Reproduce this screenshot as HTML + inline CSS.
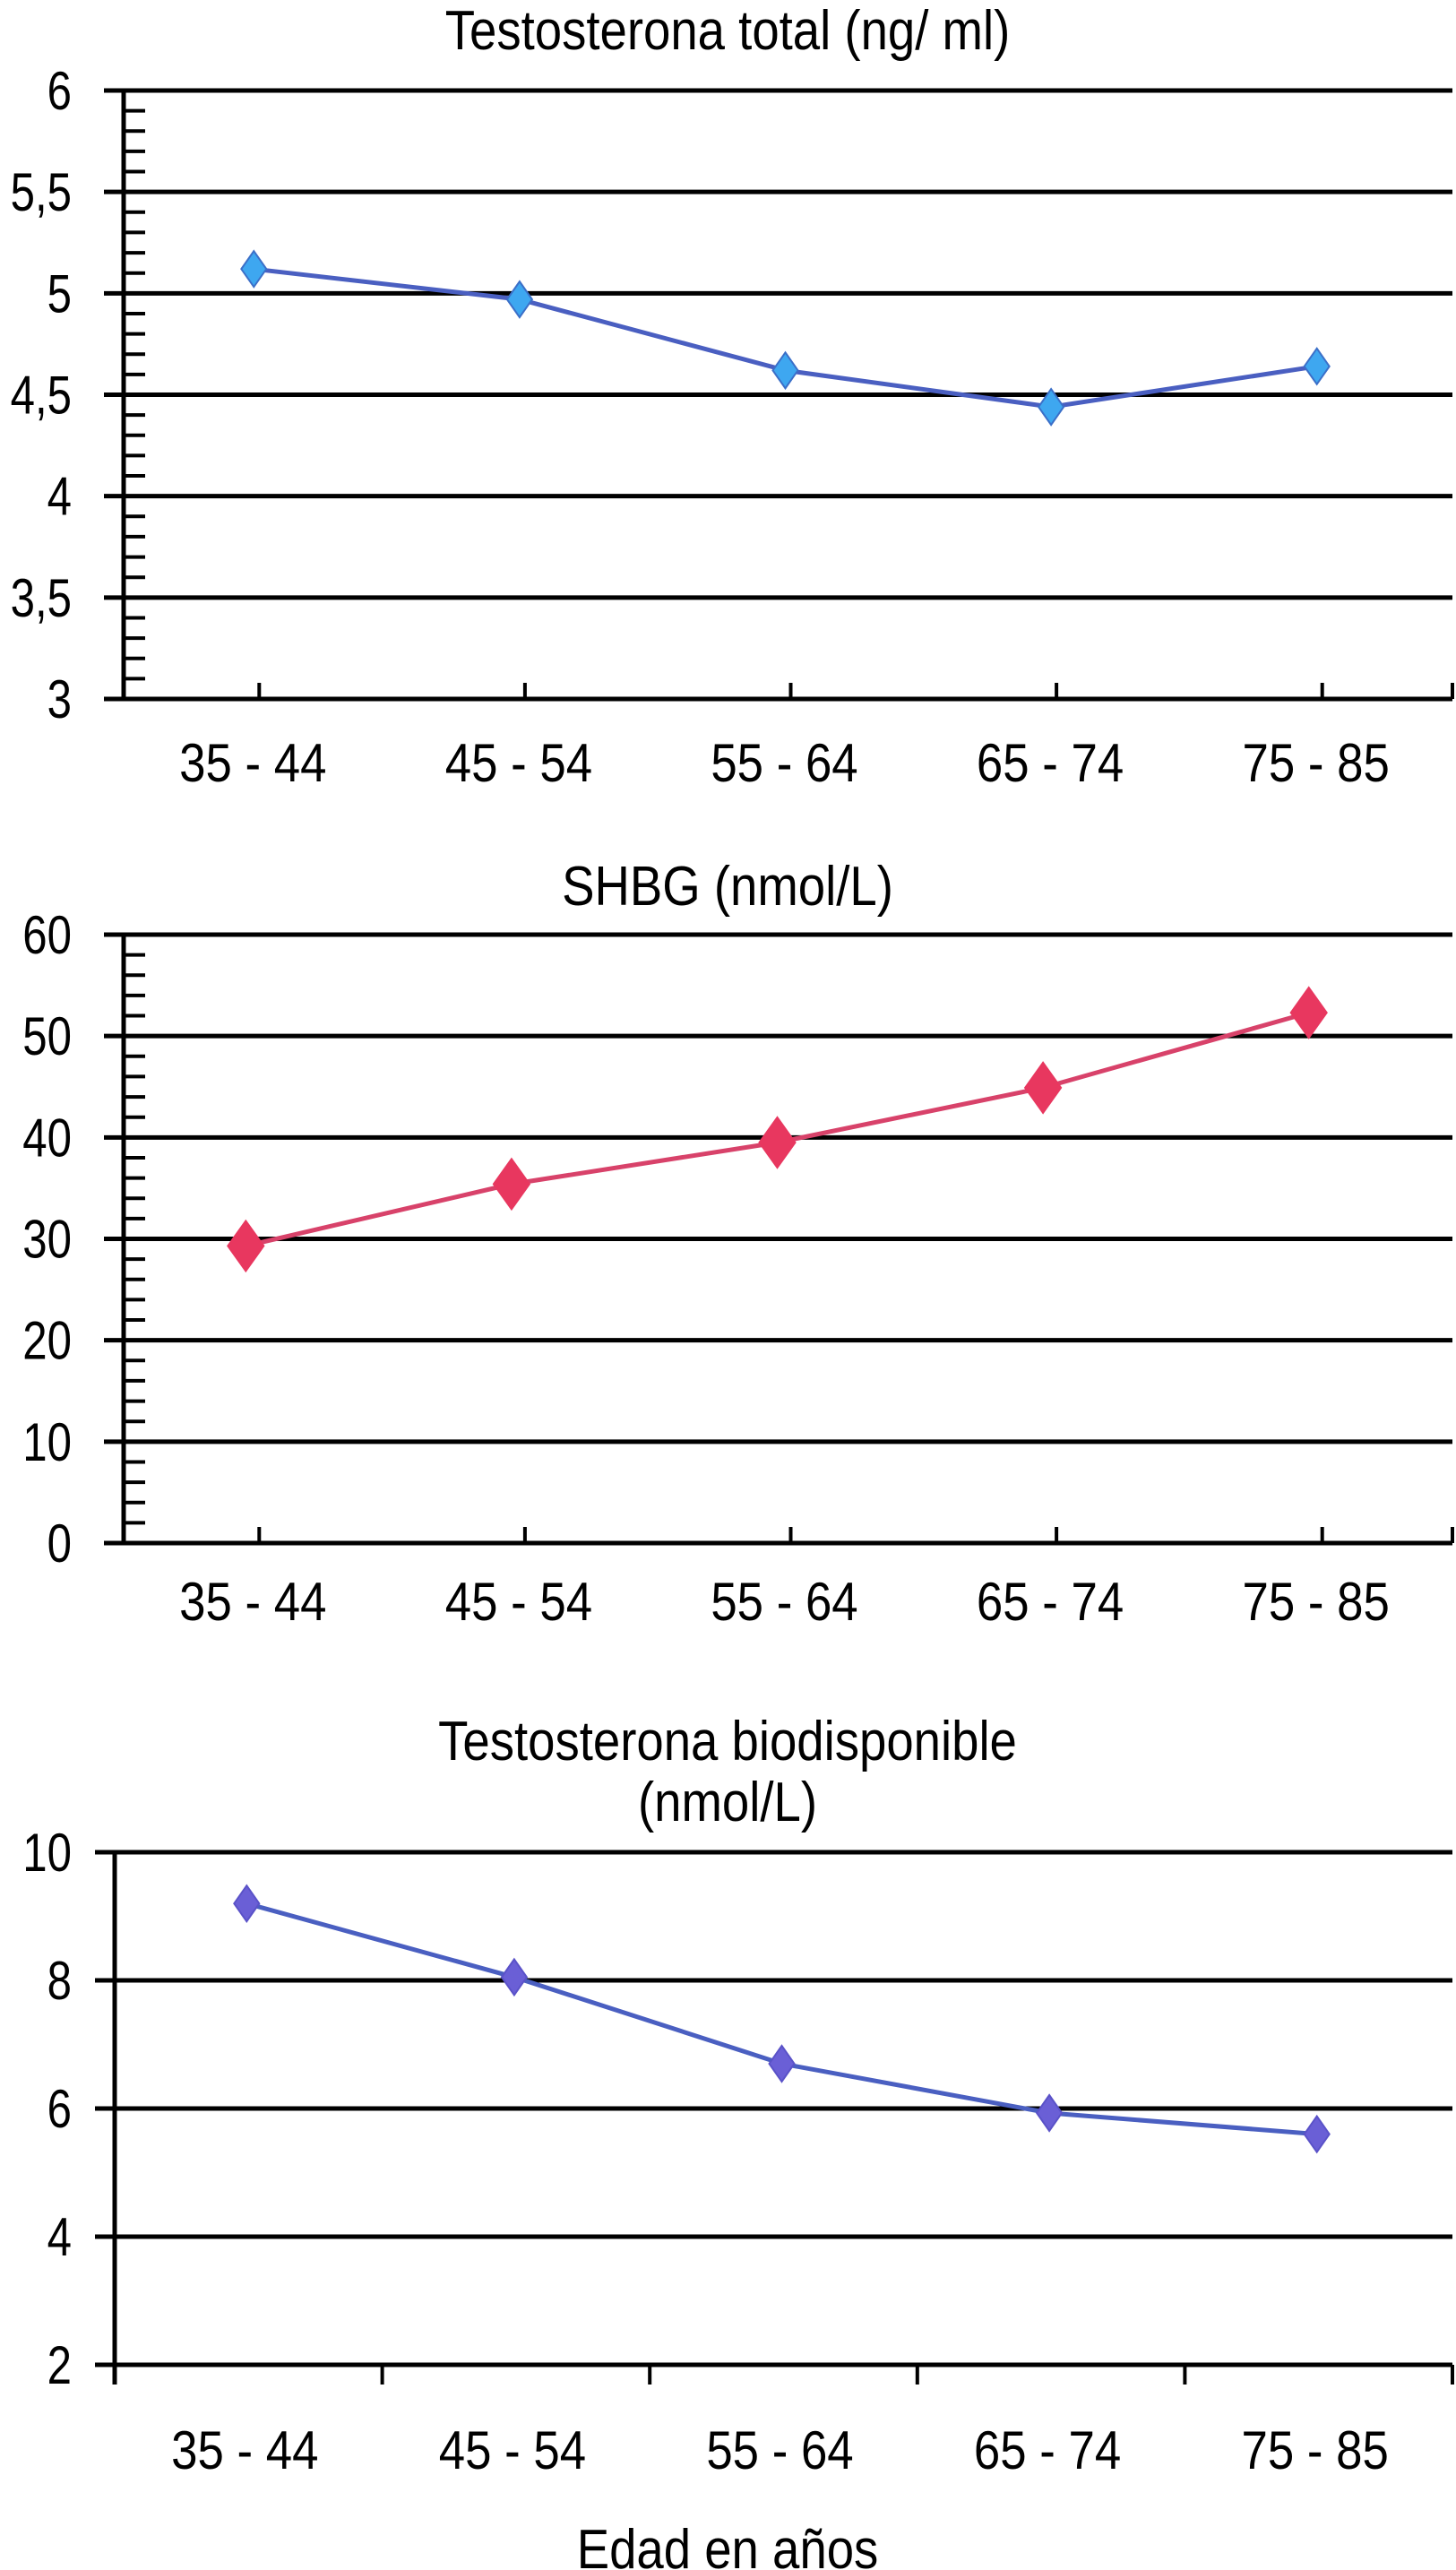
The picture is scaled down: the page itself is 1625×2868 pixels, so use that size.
<!DOCTYPE html>
<html><head><meta charset="utf-8"><style>
html,body{margin:0;padding:0;background:#fff}
svg{display:block}
text{font-family:"Liberation Sans",sans-serif;fill:#000}
</style></head><body>
<svg id="svg" width="1625" height="2868" viewBox="0 0 1625 2868" xmlns="http://www.w3.org/2000/svg"></svg>
<script>
const categories = ["35 - 44","45 - 54","55 - 64","65 - 74","75 - 85"];
const ttValues = [5.12, 4.97, 4.62, 4.44, 4.64];
const ttTicks = ["3","3,5","4","4,5","5","5,5","6"];
const shbgValues = [29.3, 35.4, 39.5, 44.9, 52.3];
const shbgTicks = ["0","10","20","30","40","50","60"];
const tbValues = [9.2, 8.05, 6.7, 5.93, 5.6];
const tbTicks = ["2","4","6","8","10"];

const NS="http://www.w3.org/2000/svg";
const svg=document.getElementById('svg');
function mk(tag,attrs,parent){const e=document.createElementNS(NS,tag);for(const k in attrs)e.setAttribute(k,attrs[k]);(parent||svg).appendChild(e);return e;}
function txt(parent,x,y,anchor,size,content,name,sx){
  const wrap=mk('g',{transform:`translate(${x},${y}) scale(${sx||0.8},1)`},parent);
  const t=mk('text',{x:0,y:0,'text-anchor':anchor,'font-size':size},wrap);
  t.textContent=content;
  
  
  return t;
}

function chart(o){
  const g=mk('g',{});
  
  
  const x0=o.x0,x1=1621,band=(x1-x0)/categories.length;
  const n=o.ticks.length;
  const vmin=parseFloat(o.ticks[0].replace(',','.')),vmax=parseFloat(o.ticks[n-1].replace(',','.'));
  const y=v=>o.yBot-(v-vmin)/(vmax-vmin)*(o.yBot-o.yTop);
  const xc=i=>x0+band*(i+0.5)+o.off;
  o.titles.forEach((t,i)=>{
    txt(g,812,o.titleY[i],'middle',62,t,'chart-title',0.88);
  });
  o.ticks.forEach((t,i)=>{
    const v=parseFloat(t.replace(',','.'));
    const ln=mk('line',{x1:x0-22,x2:x1,y1:y(v),y2:y(v),stroke:'#000','stroke-width':5},g);
    
    
    txt(g,80,y(v)+21,'end',60,t,'y-tick-label',0.82);
    if(o.minor&&i<n-1){
      const step=(parseFloat(o.ticks[1].replace(',','.'))-vmin)/5;
      for(let k=1;k<5;k++){
        const mt=mk('line',{x1:x0,x2:x0+24,y1:y(v+step*k),y2:y(v+step*k),stroke:'#000','stroke-width':4},g);
        
        
      }
    }
  });
  const ax=mk('line',{x1:x0,x2:x0,y1:o.yTop,y2:o.yBot+(o.tickDown?22:0),stroke:'#000','stroke-width':5},g);
  
  
  if(o.tickDown){
    for(let i=1;i<=categories.length;i++){
      const tk=mk('line',{x1:x0+band*i,x2:x0+band*i,y1:o.yBot,y2:o.yBot+22,stroke:'#000','stroke-width':4},g);
      
      
    }
  } else {
    categories.forEach((c,i)=>{
      const xx=x0+band*(i+0.5)+3;
      const tk=mk('line',{x1:xx,x2:xx,y1:o.yBot-18,y2:o.yBot,stroke:'#000','stroke-width':4},g);
      
      
    });
    const tk=mk('line',{x1:x1,x2:x1,y1:o.yBot-18,y2:o.yBot,stroke:'#000','stroke-width':4},g);
    
    
  }
  categories.forEach((c,i)=>{
    txt(g,x0+band*(i+0.5)-4,o.labY+21,'middle',60,c,'x-tick-label',0.88);
  });
  const pts=o.values.map((v,i)=>xc(i)+','+y(v)).join(' ');
  const pl=mk('polyline',{points:pts,fill:'none',stroke:o.line,'stroke-width':5},g);
  
  
  o.values.forEach((v,i)=>{
    const cx=xc(i),cy=y(v),w=o.mw,h=o.mh;
    const m=mk('polygon',{points:`${cx},${cy-h} ${cx+w},${cy} ${cx},${cy+h} ${cx-w},${cy}`,fill:o.fill,stroke:o.stroke,'stroke-width':2},g);
    
    
  });
}

chart({name:'testosterona-total-chart',x0:138,yTop:101,yBot:780,ticks:ttTicks,values:ttValues,minor:true,tickDown:false,
  titles:['Testosterona total (ng/ ml)'],titleY:[55],labY:851,off:-3,
  line:'#4a5fc1',fill:'#3ea7f0',stroke:'#3b6fc8',mw:14,mh:20});
chart({name:'shbg-chart',x0:138,yTop:1043,yBot:1722,ticks:shbgTicks,values:shbgValues,minor:true,tickDown:false,
  titles:['SHBG (nmol/L)'],titleY:[1010],labY:1787,off:-12,
  line:'#d8426a',fill:'#e8375f',stroke:'#e8375f',mw:20,mh:28});
chart({name:'testosterona-biodisponible-chart',x0:128,yTop:2067,yBot:2639,ticks:tbTicks,values:tbValues,minor:false,tickDown:true,
  titles:['Testosterona biodisponible','(nmol/L)'],titleY:[1964,2032],labY:2734,off:-2,
  line:'#4a5fc1',fill:'#6a5fd6',stroke:'#5a52c8',mw:14,mh:20});
txt(svg,812,2866,'middle',62,'Edad en años','x-axis-title',0.88);
</script>
</body></html>
